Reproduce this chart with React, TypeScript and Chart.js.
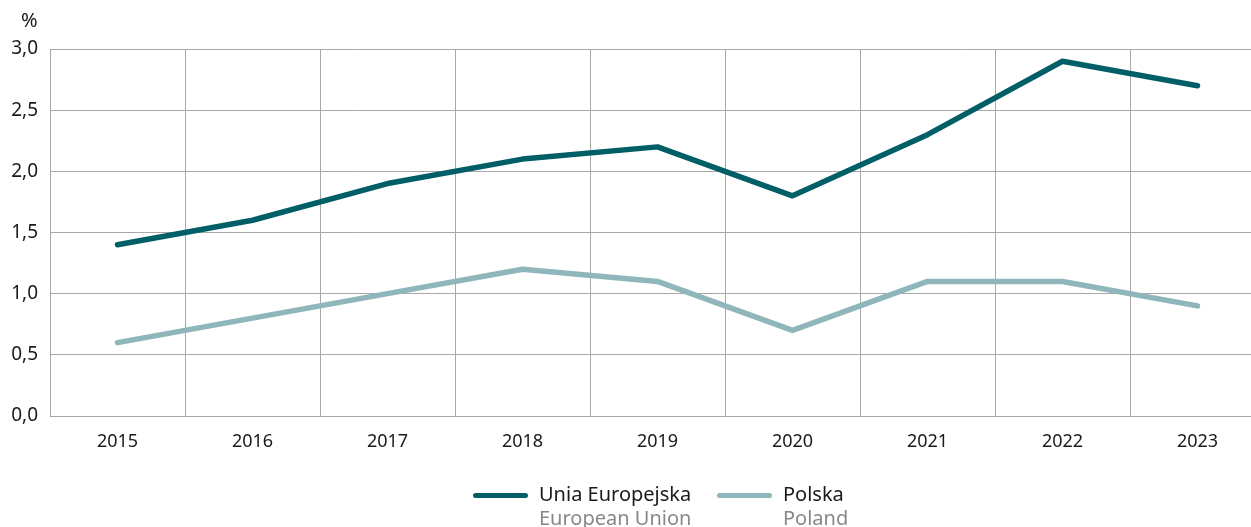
import React, { useEffect, useRef } from "react";
import { Chart, registerables } from "chart.js";

Chart.register(...registerables);

const years = ["2015", "2016", "2017", "2018", "2019", "2020", "2021", "2022", "2023"];
const euValues = [1.4, 1.6, 1.9, 2.1, 2.2, 1.8, 2.3, 2.9, 2.7];
const plValues = [0.6, 0.8, 1.0, 1.2, 1.1, 0.7, 1.1, 1.1, 0.9];
const euColor = "#005F66";
const plColor = "#8FB6BB";
const gridColor = "#A8A8A8";
const FONT = "'Noto Sans', 'Open Sans', sans-serif";

export default function App() {
  const ref = useRef<HTMLCanvasElement | null>(null);

  useEffect(() => {
    document.body.style.margin = "0";
    document.body.style.overflow = "hidden";
    const ctx = ref.current!;
    const chart = new Chart(ctx, {
      type: "line",
      data: {
        labels: years,
        datasets: [
          {
            label: "Unia Europejska",
            data: euValues,
            borderColor: euColor,
            backgroundColor: euColor,
            borderWidth: 5.5,
            pointRadius: 0,
            tension: 0,
            borderCapStyle: "round",
            borderJoinStyle: "round",
          },
          {
            label: "Polska",
            data: plValues,
            borderColor: plColor,
            backgroundColor: plColor,
            borderWidth: 5.5,
            pointRadius: 0,
            tension: 0,
            borderCapStyle: "round",
            borderJoinStyle: "round",
          },
        ],
      },
      options: {
        animation: false,
        responsive: false,
        maintainAspectRatio: false,
        layout: { padding: { top: 49, bottom: 61, left: 0, right: 0 } },
        plugins: { legend: { display: false }, tooltip: { enabled: false } },
        scales: {
          x: {
            offset: true,
            grid: { offset: true, color: gridColor, lineWidth: 1, drawTicks: false },
            border: { color: gridColor, width: 1 },
            ticks: { color: "#1a1a1a", font: { family: FONT, size: 18 }, padding: 15 },
            afterFit: (s: any) => { s.height = 50; },
          },
          y: {
            min: 0,
            max: 3,
            grid: { color: gridColor, lineWidth: 1, drawTicks: false },
            border: { color: gridColor, width: 1 },
            ticks: {
              stepSize: 0.5,
              color: "#1a1a1a",
              padding: 12,
              font: { family: FONT, size: 19 },
              callback: (v: any) => Number(v).toFixed(1).replace(".", ","),
            },
            afterFit: (s: any) => { s.width = 50; },
          },
        },
      },
    });
    return () => chart.destroy();
  }, []);

  const legendItem = (color: string, pl: string, en: string, left: number) => (
    <div style={{ position: "absolute", left, top: 482, display: "flex", alignItems: "flex-start" }}>
      <div style={{ width: 55, height: 5, borderRadius: 3, background: color, marginTop: 11, marginRight: 11 }} />
      <div style={{ fontFamily: FONT, fontSize: 20, lineHeight: "24px" }}>
        <div style={{ color: "#1a1a1a" }}>{pl}</div>
        <div style={{ color: "#888" }}>{en}</div>
      </div>
    </div>
  );

  return (
    <div style={{ position: "relative", width: 1265, height: 527, overflow: "hidden" }}>
      <canvas ref={ref} width={1265} height={527} style={{ display: "block" }} />
      <div style={{ position: "absolute", left: 21, top: 6, fontFamily: FONT, fontSize: 20, color: "#1a1a1a" }}>%</div>
      {legendItem(euColor, "Unia Europejska", "European Union", 473)}
      {legendItem(plColor, "Polska", "Poland", 717)}
    </div>
  );
}
